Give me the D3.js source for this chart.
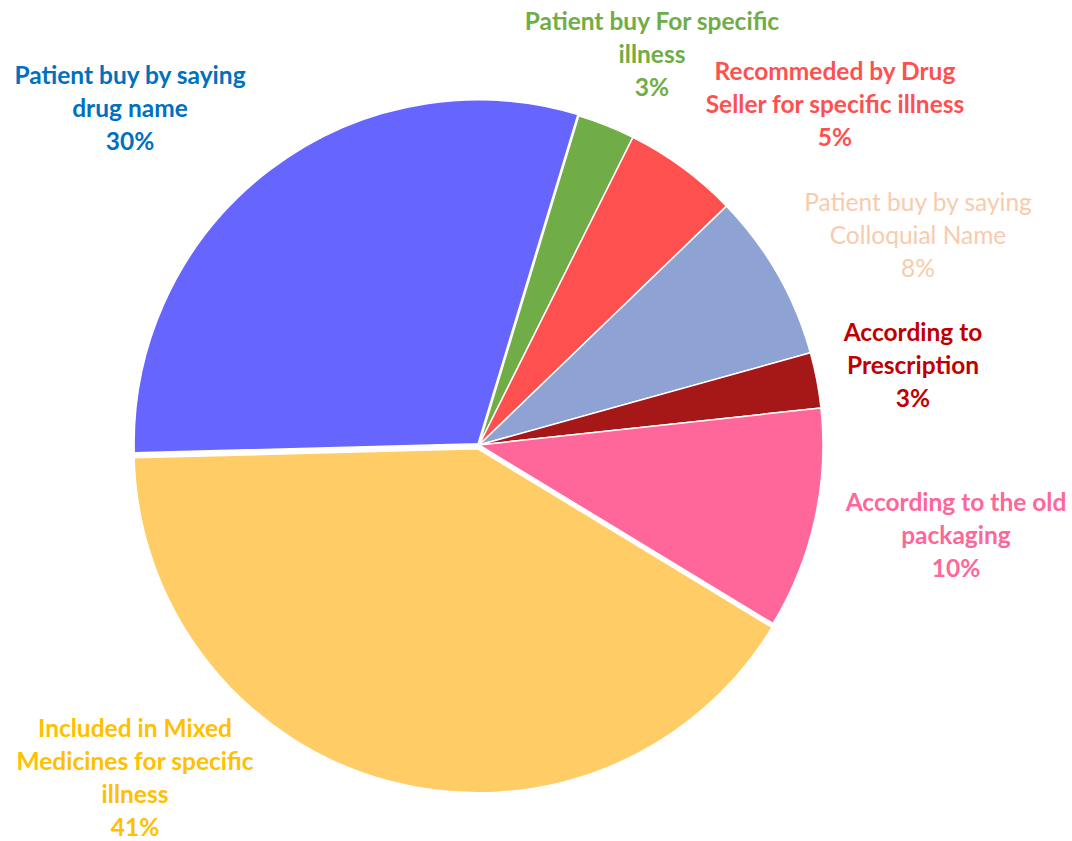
<!DOCTYPE html>
<html>
<head>
<meta charset="utf-8">
<script src="https://cdn.jsdelivr.net/npm/d3@7"></script>
<style>
  html, body { margin: 0; padding: 0; background: #fff; }
  svg { display: block; }
</style>
</head>
<body>
<svg id="chart" width="1072" height="841"></svg>
<script>
// Share of ways patients ask for the drug (percent)
const categories = [
  "Patient buy by saying drug name",
  "Patient buy For specific illness",
  "Recommeded by Drug Seller for specific illness",
  "Patient buy by saying Colloquial Name",
  "According to Prescription",
  "According to the old packaging",
  "Included in Mixed Medicines for specific illness"
];
const values = [30.1, 2.7, 5.4, 7.9, 2.6, 10.4, 40.9];

// Wrapped label lines for each slice
const labelLines = [
  ["Patient buy by saying", "drug name"],
  ["Patient buy For specific", "illness"],
  ["Recommeded by Drug", "Seller for specific illness"],
  ["Patient buy by saying", "Colloquial Name"],
  ["According to", "Prescription"],
  ["According to the old", "packaging"],
  ["Included in Mixed", "Medicines for specific", "illness"]
];

const sliceColors = ["#6666FF", "#70AD47", "#FF5050", "#8FA2D4", "#A61717", "#FF6699", "#FFCC66"];
const labelColors = ["#0070C0", "#70AD47", "#FF5050", "#F8CBAD", "#C00000", "#FF6699", "#FFC000"];
const labelWeights = [700, 700, 700, 400, 700, 700, 700];
// Label anchor points (centre of first text line)
const labelPos = [[130, 75], [652, 21], [835, 71], [918, 202], [913, 332], [956, 502], [135, 728]];
// Slice explosion distance in px
const explode = [1.5, 0, 0, 0, 0, 0, 4];

const svg = d3.select("#chart");
const cx = 479, cy = 445, radius = 344;
const start = 268.5 * Math.PI / 180;

const pie = d3.pie().sort(null).value(d => d)
  .startAngle(start).endAngle(start + 2 * Math.PI);
const arcs = pie(values);
const arc = d3.arc().innerRadius(0).outerRadius(radius);

const g = svg.append("g").attr("transform", `translate(${cx},${cy})`);
g.selectAll("path")
  .data(arcs)
  .join("path")
  .attr("d", arc)
  .attr("fill", (d, i) => sliceColors[i])
  .attr("stroke", "#fff")
  .attr("stroke-width", 1.5)
  .attr("stroke-linejoin", "round")
  .attr("transform", (d, i) => {
    const a = (d.startAngle + d.endAngle) / 2;
    return `translate(${Math.sin(a) * explode[i]},${-Math.cos(a) * explode[i]})`;
  });

const total = d3.sum(values);
const lineH = 33;
const labels = svg.append("g")
  .attr("font-family", "Lato, 'Open Sans', sans-serif")
  .attr("font-size", 24.5)
  .attr("text-anchor", "middle");

arcs.forEach((d, i) => {
  const lines = labelLines[i].concat([Math.round(d.value / total * 100) + "%"]);
  const t = labels.append("text")
    .attr("fill", labelColors[i])
    .attr("font-weight", labelWeights[i]);
  lines.forEach((s, k) => {
    t.append("tspan")
      .attr("x", labelPos[i][0])
      .attr("y", labelPos[i][1] + k * lineH)
      .attr("dy", "0.36em")
      .text(s);
  });
});
</script>
</body>
</html>
